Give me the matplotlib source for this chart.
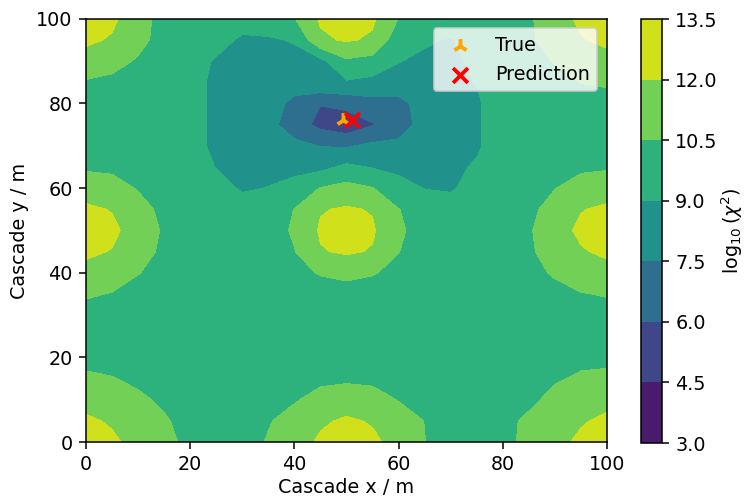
import numpy as np
import matplotlib
matplotlib.use("Agg")
import matplotlib.pyplot as plt

# grid of cascade positions (m)
x = np.arange(0, 101, 5)
y = np.arange(0, 101, 5)

# log10(chi^2), one row per y value (0 -> 100)
chi2 = [
    [13.4, 12.25, 11.52, 10.83, 10.2, 9.85, 9.99, 10.6, 11.39, 12.23, 13.2, 12.32, 11.42, 10.52, 9.93, 9.85, 10.17, 10.81, 11.51, 12.32, 13.4],
    [12.25, 11.83, 11.27, 10.63, 10.08, 9.82, 9.9, 10.41, 10.98, 11.78, 12.22, 11.86, 11.03, 10.48, 9.85, 9.82, 10.15, 10.74, 11.25, 11.84, 12.34],
    [11.44, 11.22, 10.73, 10.29, 9.85, 9.8, 9.8, 9.99, 10.39, 10.94, 11.18, 10.96, 10.45, 10.03, 9.82, 9.8, 9.86, 10.22, 10.86, 11.29, 11.52],
    [10.73, 10.56, 10.24, 9.89, 9.8, 9.8, 9.8, 9.8, 9.94, 10.21, 10.29, 10.24, 10.0, 9.8, 9.8, 9.8, 9.8, 9.95, 10.36, 10.69, 10.81],
    [10.1, 10.0, 9.82, 9.8, 9.8, 9.8, 9.8, 9.8, 9.8, 9.8, 9.8, 9.8, 9.8, 9.8, 9.8, 9.8, 9.8, 9.8, 9.9, 10.16, 10.17],
    [9.8, 9.8, 9.8, 9.8, 9.8, 9.8, 9.8, 9.8, 9.8, 9.8, 9.8, 9.8, 9.8, 9.8, 9.8, 9.8, 9.8, 9.8, 9.8, 9.82, 9.85],
    [10.03, 9.9, 9.8, 9.8, 9.8, 9.8, 9.8, 9.8, 9.8, 9.8, 9.8, 9.8, 9.8, 9.8, 9.8, 9.8, 9.8, 9.8, 9.8, 9.9, 9.99],
    [10.66, 10.44, 10.06, 9.85, 9.8, 9.8, 9.8, 9.8, 9.82, 9.95, 9.95, 9.95, 9.82, 9.8, 9.8, 9.8, 9.8, 9.9, 10.16, 10.44, 10.6],
    [11.46, 11.16, 10.55, 10.04, 9.8, 9.8, 9.8, 9.82, 10.16, 10.59, 10.85, 10.59, 10.16, 9.82, 9.8, 9.8, 9.8, 10.14, 10.64, 11.15, 11.43],
    [12.32, 11.92, 11.08, 10.21, 9.8, 9.8, 9.8, 9.9, 10.45, 11.9, 12.2, 11.9, 10.53, 9.9, 9.8, 9.8, 9.8, 10.3, 11.1, 11.85, 12.32],
    [13.3, 12.33, 11.28, 10.34, 9.8, 9.8, 9.8, 9.99, 10.65, 12.17, 13.0, 12.17, 10.7, 9.99, 9.8, 9.8, 9.8, 10.36, 11.3, 12.33, 13.3],
    [12.28, 11.92, 10.99, 10.16, 9.8, 9.8, 9.8, 9.9, 10.52, 11.9, 12.17, 11.9, 10.53, 9.9, 9.8, 9.8, 9.8, 10.2, 10.98, 11.92, 12.28],
    [11.23, 11.0, 10.41, 9.96, 9.8, 9.6, 8.8, 9.05, 9.6, 10.55, 10.98, 10.55, 9.6, 8.95, 8.8, 9.7, 9.8, 10.0, 10.47, 10.98, 11.26],
    [10.31, 10.24, 9.95, 9.8, 9.8, 8.95, 8.5, 8.5, 8.5, 8.6, 9.3, 8.9, 8.6, 8.7, 8.7, 9.15, 9.8, 9.8, 9.98, 10.29, 10.35],
    [9.8, 9.8, 9.8, 9.8, 9.8, 8.5, 8.4, 8.3, 7.9, 7.45, 7.35, 7.8, 7.8, 8.4, 8.5, 8.8, 9.8, 9.8, 9.8, 9.8, 9.83],
    [9.8, 9.8, 9.8, 9.8, 9.8, 8.5, 8.4, 8.0, 6.7, 5.6, 5.0, 5.9, 6.9, 8.0, 8.4, 8.8, 9.8, 9.8, 9.8, 9.8, 9.8],
    [9.8, 9.8, 9.8, 9.8, 9.8, 8.5, 8.5, 8.2, 7.1, 6.05, 6.5, 7.0, 7.0, 8.2, 8.5, 8.8, 9.8, 9.8, 9.8, 9.99, 10.03],
    [10.38, 10.23, 9.93, 9.8, 9.8, 8.5, 8.5, 8.5, 8.2, 8.9, 8.85, 8.6, 8.5, 8.6, 8.7, 9.05, 9.8, 9.8, 10.15, 10.53, 10.66],
    [11.3, 10.9, 10.37, 9.93, 9.8, 8.8, 8.6, 8.6, 8.6, 8.6, 10.28, 9.99, 9.05, 8.7, 8.8, 9.2, 9.8, 10.09, 10.57, 11.17, 11.47],
    [12.31, 11.83, 10.85, 10.05, 9.8, 9.7, 8.7, 8.85, 9.1, 11.75, 12.15, 11.8, 9.6, 9.2, 8.9, 9.6, 9.85, 10.29, 11.06, 11.89, 12.35],
    [13.4, 12.31, 11.0, 10.05, 9.85, 9.8, 9.85, 9.75, 10.43, 12.18, 13.0, 12.21, 10.46, 9.7, 9.6, 9.7, 9.85, 10.33, 11.25, 12.32, 13.4],
]

levels = [3.0, 4.5, 6.0, 7.5, 9.0, 10.5, 12.0, 13.5]

true_pos = (49.4, 76.1)
pred_pos = (51.0, 76.1)

fig = plt.figure(figsize=(748 / 138, 499 / 138), dpi=138)
ax = fig.add_axes([0.115, 0.1142, 0.6965, 0.848])
cax = fig.add_axes([0.8566, 0.1122, 0.0281, 0.8497])

cs = ax.contourf(x, y, np.array(chi2), levels=levels, cmap="viridis")
ax.scatter(true_pos[0], true_pos[1], marker="2", c="orange", s=60,
           linewidths=2, label="True", zorder=3)
ax.scatter(pred_pos[0], pred_pos[1], marker="x", c="red", s=60,
           linewidths=2, label="Prediction", zorder=3)

ax.set_xlim(0, 100)
ax.set_ylim(0, 100)
ax.set_xticks(range(0, 101, 20))
ax.set_yticks(range(0, 101, 20))
ax.set_xlabel("Cascade x / m", labelpad=2)
ax.set_ylabel("Cascade y / m")
ax.legend(loc="upper right")

cb = fig.colorbar(cs, cax=cax)
cb.set_label(r"$\log_{10}(\chi^2)$", labelpad=1)

fig.savefig("out.png", dpi=138)
